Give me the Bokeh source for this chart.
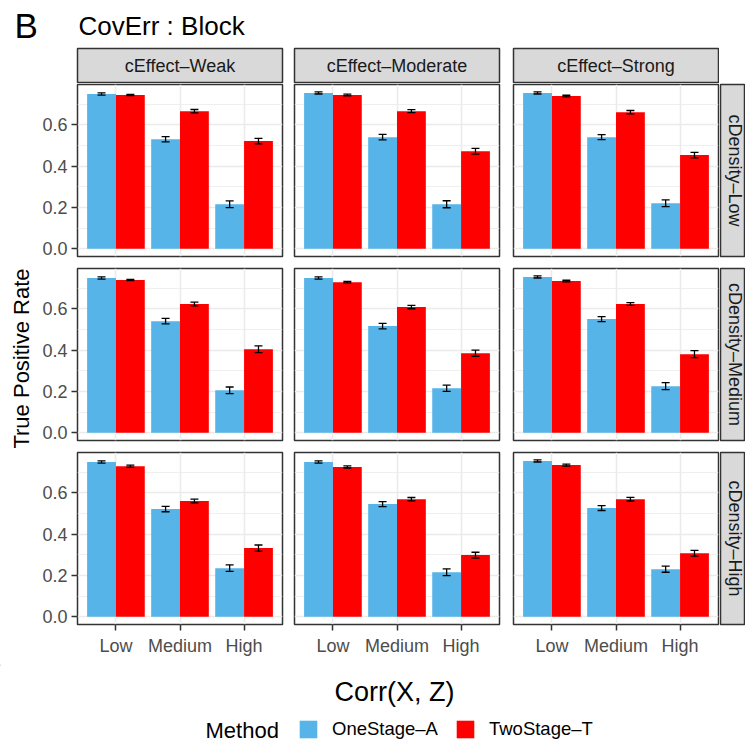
import math
from bokeh.plotting import figure
from bokeh.models import (Range1d, LinearAxis, Grid, FixedTicker, Legend, LegendItem,
                          Spacer, NumeralTickFormatter)
from bokeh.layouts import row, column
from bokeh.core.properties import value
from bokeh.embed import file_html
from bokeh.resources import INLINE

FONT = "Liberation Sans"

# ---------------- data ----------------
categories = ["Low", "Medium", "High"]
effects = ["cEffect\u2013Weak", "cEffect\u2013Moderate", "cEffect\u2013Strong"]
densities = ["cDensity\u2013Low", "cDensity\u2013Medium", "cDensity\u2013High"]
methods = ["OneStage\u2013A", "TwoStage\u2013T"]
method_colors = ["#56B4E9", "#FF0000"]

# rows: density (Low, Medium, High); columns: effect (Weak, Moderate, Strong)
onestage_low = [[0.749, 0.530, 0.215], [0.754, 0.540, 0.215], [0.754, 0.540, 0.220]]
onestage_med = [[0.749, 0.540, 0.205], [0.749, 0.516, 0.215], [0.754, 0.550, 0.225]]
onestage_high = [[0.749, 0.521, 0.235], [0.749, 0.545, 0.215], [0.754, 0.526, 0.230]]

twostage_low = [[0.744, 0.666, 0.521], [0.744, 0.666, 0.472], [0.739, 0.661, 0.453]]
twostage_med = [[0.739, 0.623, 0.404], [0.729, 0.608, 0.385], [0.734, 0.623, 0.380]]
twostage_high = [[0.729, 0.560, 0.332], [0.725, 0.569, 0.298], [0.734, 0.569, 0.307]]

onestage_se_low = [[0.005, 0.013, 0.016], [0.005, 0.013, 0.017], [0.005, 0.012, 0.016]]
onestage_se_med = [[0.005, 0.013, 0.016], [0.005, 0.013, 0.015], [0.005, 0.012, 0.017]]
onestage_se_high = [[0.005, 0.013, 0.016], [0.005, 0.012, 0.016], [0.005, 0.012, 0.015]]

twostage_se_low = [[0.003, 0.008, 0.013], [0.004, 0.007, 0.014], [0.004, 0.008, 0.013]]
twostage_se_med = [[0.003, 0.009, 0.016], [0.004, 0.008, 0.015], [0.004, 0.007, 0.017]]
twostage_se_high = [[0.005, 0.009, 0.015], [0.005, 0.008, 0.014], [0.005, 0.009, 0.014]]

y_ticks = [0.0, 0.2, 0.4, 0.6]
y_minor = [0.1, 0.3, 0.5, 0.7]

values = [
    [onestage_low, twostage_low],
    [onestage_med, twostage_med],
    [onestage_high, twostage_high],
]
errors = [
    [onestage_se_low, twostage_se_low],
    [onestage_se_med, twostage_se_med],
    [onestage_se_high, twostage_se_high],
]

# ---------------- layout constants ----------------
FRAME_W, FRAME_H = 205, 172
COL_BORDERS = [(41, 6), (6, 7), (7, 1)]          # (left, right)
ROW_BORDERS = [(1, 6), (6, 6), (6, 40)]          # (top, bottom)
YLAB_W = 36
RSTRIP_W = 26
HEADER_H = 47
STRIP_H = 36
FOOTER_H = 78
BAR_W = 0.45
CAP = 0.0625
BORDER = "#333333"
GRIDC = "#EBEBEB"


def drop_default_grids(p):
    p.center = [r for r in p.center if not isinstance(r, Grid)]


def style_axis(ax):
    ax.axis_line_color = None
    ax.major_tick_line_color = BORDER
    ax.major_tick_line_width = 1.5
    ax.major_tick_out = 6
    ax.major_tick_in = 0
    ax.minor_tick_line_color = None
    ax.major_label_text_font = FONT
    ax.major_label_text_font_size = "18px"
    ax.major_label_text_color = "#4D4D4D"


def panel(di, ei):
    ml, mr = COL_BORDERS[ei]
    mt, mb = ROW_BORDERS[di]
    p = figure(width=ml + FRAME_W + mr, height=mt + FRAME_H + mb,
               x_range=Range1d(0.4, 3.6), y_range=Range1d(-0.038, 0.795),
               x_axis_location=None, y_axis_location=None,
               toolbar_location=None, output_backend="svg",
               min_border_left=ml, min_border_right=mr,
               min_border_top=mt, min_border_bottom=mb)
    drop_default_grids(p)
    p.outline_line_color = BORDER
    p.outline_line_width = 1.5
    p.background_fill_color = "white"
    p.border_fill_color = "white"

    xg = Grid(dimension=0, ticker=FixedTicker(ticks=[1, 2, 3]),
              grid_line_color=GRIDC, grid_line_width=1.6)
    yg = Grid(dimension=1, ticker=FixedTicker(ticks=y_ticks, minor_ticks=y_minor),
              grid_line_color=GRIDC, grid_line_width=1.6,
              minor_grid_line_color=GRIDC, minor_grid_line_width=0.8)
    p.add_layout(xg)
    p.add_layout(yg)

    for mi in range(2):
        vals = values[di][mi][ei]
        errs = errors[di][mi][ei]
        offset = -BAR_W / 2 if mi == 0 else BAR_W / 2
        xs = [i + 1 + offset for i in range(len(categories))]
        p.vbar(x=xs, top=vals, bottom=0, width=BAR_W,
               fill_color=method_colors[mi], line_color=None)
        lo = [v - e for v, e in zip(vals, errs)]
        hi = [v + e for v, e in zip(vals, errs)]
        p.segment(x0=xs, y0=lo, x1=xs, y1=hi, line_color="black", line_width=1.3)
        p.segment(x0=[x - CAP for x in xs], y0=hi, x1=[x + CAP for x in xs], y1=hi,
                  line_color="black", line_width=1.3)
        p.segment(x0=[x - CAP for x in xs], y0=lo, x1=[x + CAP for x in xs], y1=lo,
                  line_color="black", line_width=1.3)

    if ei == 0:
        ay = LinearAxis(ticker=FixedTicker(ticks=y_ticks),
                        formatter=NumeralTickFormatter(format="0.0"))
        style_axis(ay)
        ay.major_label_standoff = 4
        p.add_layout(ay, "left")
    if di == 2:
        ax = LinearAxis(ticker=FixedTicker(ticks=[1, 2, 3]),
                        major_label_overrides={i + 1: c for i, c in enumerate(categories)})
        style_axis(ax)
        ax.major_label_standoff = 5
        p.add_layout(ax, "below")
    return p


def blank(w, h):
    p = figure(width=w, height=h, x_range=Range1d(0, w), y_range=Range1d(h, 0),
               x_axis_location=None, y_axis_location=None, toolbar_location=None,
               output_backend="svg", min_border=0)
    drop_default_grids(p)
    p.outline_line_color = None
    p.background_fill_color = "white"
    p.border_fill_color = "white"
    return p


def top_strip(ei):
    ml, mr = COL_BORDERS[ei]
    p = figure(width=ml + FRAME_W + mr, height=STRIP_H, x_range=Range1d(0, 1), y_range=Range1d(0, 1),
               x_axis_location=None, y_axis_location=None, toolbar_location=None,
               output_backend="svg", min_border_left=ml, min_border_right=mr,
               min_border_top=1, min_border_bottom=0)
    drop_default_grids(p)
    p.background_fill_color = "#D9D9D9"
    p.border_fill_color = "white"
    p.outline_line_color = BORDER
    p.outline_line_width = 1.5
    p.text(x=[0.5], y=[0.5], text=[effects[ei]], text_font=value(FONT),
           text_font_size="18px", text_color="#1A1A1A",
           text_align="center", text_baseline="middle")
    return p


def right_strip(di):
    mt, mb = ROW_BORDERS[di]
    p = figure(width=RSTRIP_W, height=mt + FRAME_H + mb, x_range=Range1d(0, RSTRIP_W - 1),
               y_range=Range1d(0, 1),
               x_axis_location=None, y_axis_location=None, toolbar_location=None,
               output_backend="svg", min_border_left=1, min_border_right=0,
               min_border_top=mt, min_border_bottom=mb)
    drop_default_grids(p)
    p.background_fill_color = "#D9D9D9"
    p.border_fill_color = "white"
    p.outline_line_color = BORDER
    p.outline_line_width = 1.5
    p.text(x=[14], y=[0.5], text=[densities[di]], text_font=value(FONT),
           text_font_size="18px", text_color="#1A1A1A", angle=-math.pi / 2,
           text_align="center", text_baseline="middle")
    return p


TOTAL_W = YLAB_W + sum(l + FRAME_W + r for l, r in COL_BORDERS) + RSTRIP_W

# header
header = blank(TOTAL_W, HEADER_H)
header.text(x=[14], y=[25], text=["B"], text_font=value(FONT), text_font_size="35px",
            text_color="black", text_align="left", text_baseline="middle")
header.text(x=[78], y=[25], text=["CovErr : Block"], text_font=value(FONT), text_font_size="26px",
            text_color="black", text_align="left", text_baseline="middle")

# grid of panels
rows = [row(*[top_strip(ei) for ei in range(3)], Spacer(width=RSTRIP_W, height=STRIP_H))]
for di in range(3):
    rows.append(row(*[panel(di, ei) for ei in range(3)], right_strip(di)))
grid_col = column(*rows)

grid_h = STRIP_H + sum(t + FRAME_H + b for t, b in ROW_BORDERS)
ylab = blank(YLAB_W, grid_h)
ylab.text(x=[21], y=[311], text=["True Positive Rate"], text_font=value(FONT),
          text_font_size="22px", text_color="black", angle=math.pi / 2,
          text_align="center", text_baseline="middle")

# footer: x title + legend
footer = blank(TOTAL_W, FOOTER_H)
footer.text(x=[394], y=[27], text=["Corr(X, Z)"], text_font=value(FONT),
            text_font_size="27px", text_color="black", text_align="center",
            text_baseline="middle")
footer.text(x=[205], y=[66], text=["Method"], text_font=value(FONT),
            text_font_size="22px", text_color="black", text_align="left",
            text_baseline="middle")
# legend-only renderers (kept outside the visible range)
r1 = footer.vbar(x=[-500], top=[1], width=1, fill_color=method_colors[0], line_color=None)
r2 = footer.vbar(x=[-500], top=[1], width=1, fill_color=method_colors[1], line_color=None)
legend = Legend(items=[LegendItem(label=methods[0], renderers=[r1]),
                       LegendItem(label=methods[1], renderers=[r2])],
                orientation="horizontal", location=(297, 2), padding=0, margin=0,
                spacing=16, label_standoff=13, glyph_width=22, glyph_height=22,
                label_text_font=FONT, label_text_font_size="18.5px",
                label_text_color="black",
                border_line_color=None, background_fill_alpha=0)
footer.add_layout(legend)

layout = column(header, row(ylab, grid_col), footer)

open("out.html", "w").write(file_html(layout, INLINE))
